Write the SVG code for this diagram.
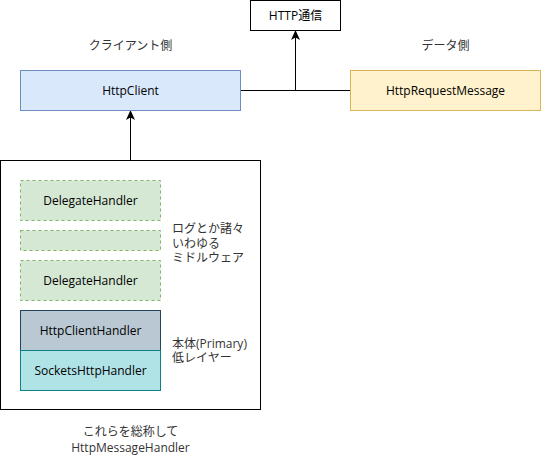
<svg xmlns="http://www.w3.org/2000/svg" width="541" height="461" viewBox="0 0 541 461">
<defs>
<style>
text{font-family:"Open Sans","Noto Sans CJK JP",sans-serif;font-size:12px;fill:#000;}
.c{text-anchor:middle;dominant-baseline:central;}
.l{dominant-baseline:central;}
.lbl{fill:#333;}
.plain{fill:#fff;stroke:#000;stroke-width:1;}
.dh{fill:#d5e8d4;stroke:#82b366;stroke-width:1;stroke-dasharray:3 3;}
.edge{fill:none;stroke:#000;stroke-width:1;}
</style>
<marker id="arr" viewBox="0 0 10 10" refX="9" refY="5" markerWidth="10" markerHeight="10" markerUnits="userSpaceOnUse" orient="auto">
<path d="M0,0.5 L10,5 L0,9.5 L2.5,5 Z" fill="#000"/>
</marker>
</defs>
<rect x="0" y="0" width="541" height="461" fill="#fff"/>
<g id="outer"><rect class="plain" x="0.5" y="160.5" width="260" height="249"/></g>
<g id="connectors">
<path class="edge" d="M240.5,90.5 L350.5,90.5"/>
<path class="edge" d="M295.5,90.5 L295.5,31" marker-end="url(#arr)"/>
<path class="edge" d="M130.5,160.5 L130.5,111" marker-end="url(#arr)"/>
</g>
<g id="http"><rect class="plain" x="250.5" y="0.5" width="90" height="30"/><text class="c" x="295.5" y="15.5">HTTP通信</text></g>
<g id="httpclient"><rect x="20.5" y="70.5" width="220" height="40" fill="#dae8fc" stroke="#6c8ebf"/><text class="c" x="130.5" y="90.5">HttpClient</text></g>
<g id="reqmsg"><rect x="350.5" y="70.5" width="190" height="40" fill="#fff2cc" stroke="#d6b656"/><text class="c" x="445.5" y="90.5">HttpRequestMessage</text></g>
<g id="label-client"><text class="c lbl" x="130.5" y="45">クライアント側</text></g>
<g id="label-data"><text class="c lbl" x="445.5" y="45">データ側</text></g>
<g id="dh1"><rect class="dh" x="20.5" y="180.5" width="140" height="40"/><text class="c" x="90.5" y="200.5">DelegateHandler</text></g>
<g id="dh-mid"><rect class="dh" x="20.5" y="230.5" width="140" height="20"/></g>
<g id="dh2"><rect class="dh" x="20.5" y="260.5" width="140" height="40"/><text class="c" x="90.5" y="280.5">DelegateHandler</text></g>
<g id="hch"><rect x="20.5" y="310.5" width="140" height="40" fill="#bac8d3" stroke="#23445d"/><text class="c" x="90.5" y="330.5">HttpClientHandler</text></g>
<g id="shh"><rect x="20.5" y="350.5" width="140" height="40" fill="#b0e3e6" stroke="#0e8088"/><text class="c" x="90.5" y="370.5">SocketsHttpHandler</text></g>
<g id="label-mw"><text class="l lbl" x="172" y="228">ログとか諸々</text><text class="l lbl" x="172" y="243">いわゆる</text><text class="l lbl" x="172" y="257.5">ミドルウェア</text></g>
<g id="label-primary"><text class="l lbl" x="172" y="343">本体(Primary)</text><text class="l lbl" x="172" y="357.5">低レイヤー</text></g>
<g id="label-bottom"><text class="c lbl" x="130.5" y="431.5">これらを総称して</text><text class="c lbl" x="130.5" y="447">HttpMessageHandler</text></g>
</svg>
